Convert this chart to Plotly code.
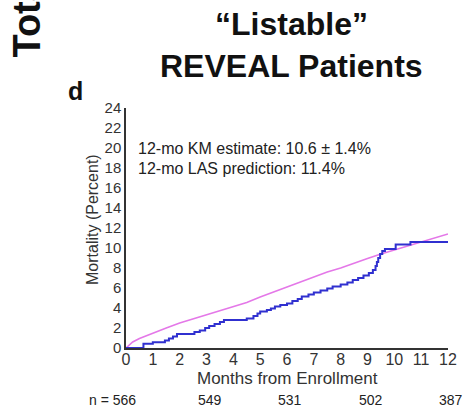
import plotly.graph_objects as go

# Data
km_months = [0, 0.65, 1.0, 1.45, 1.6, 1.75, 1.9, 2.55, 2.75, 2.95, 3.1, 3.3, 3.5, 3.65,
             4.5, 4.75, 4.9, 5.0, 5.25, 5.4, 5.55, 5.75, 6.0, 6.2, 6.4, 6.55, 6.8, 7.0,
             7.25, 7.5, 7.7, 8.0, 8.25, 8.45, 8.65, 8.85, 9.05, 9.2, 9.3, 9.35, 9.4,
             9.47, 9.55, 9.65, 10.05, 10.6, 12]
km_mortality = [0, 0.43, 0.58, 0.75, 0.95, 1.15, 1.4, 1.6, 1.75, 2.0, 2.2, 2.4, 2.6, 2.8,
                2.95, 3.2, 3.45, 3.65, 3.8, 3.95, 4.15, 4.3, 4.45, 4.7, 4.9, 5.15, 5.35, 5.55,
                5.75, 5.95, 6.15, 6.35, 6.55, 6.8, 7.0, 7.25, 7.5, 7.8, 8.2, 8.6, 9.0,
                9.4, 9.7, 9.9, 10.35, 10.6, 10.6]

las_months = [0, 0.25, 0.5, 1, 1.5, 2, 2.5, 3, 3.5, 4, 4.5, 5, 5.5, 6, 6.5, 7, 7.5, 8,
              8.5, 9, 9.5, 10, 10.5, 11, 11.5, 12]
las_mortality = [0, 0.6, 0.95, 1.5, 2.0, 2.5, 2.9, 3.3, 3.7, 4.1, 4.55, 5.1, 5.6, 6.1,
                 6.6, 7.1, 7.6, 8.0, 8.5, 8.95, 9.4, 9.8, 10.15, 10.6, 11.0, 11.4]

x_ticks = list(range(0, 13))
y_ticks = list(range(0, 25, 2))
risk_months = [0, 3, 6, 9, 12]
risk_counts = [566, 549, 531, 502, 387]

FONT = "Liberation Sans, Arial, sans-serif"
W, H = 470, 407
L, R, T, B = 126, 22, 108, 59
PW, PH = W - L - R, H - T - B


def px(xp):
    return (xp - L) / PW


def py(yp):
    return (H - B - yp) / PH


fig = go.Figure()
fig.add_trace(go.Scatter(x=las_months, y=las_mortality, mode="lines",
                         line=dict(color="rgb(228,120,232)", width=1.6),
                         hoverinfo="skip", showlegend=False))
fig.add_trace(go.Scatter(x=km_months, y=km_mortality, mode="lines", line_shape="hv",
                         line=dict(color="rgb(48,48,208)", width=2),
                         hoverinfo="skip", showlegend=False))


def paper_ann(text, xp, yp, size, color="#111", angle=0, xa="center", ya="middle"):
    return dict(text=text, x=px(xp), y=py(yp), xref="paper", yref="paper",
                xanchor=xa, yanchor=ya, textangle=angle, showarrow=False,
                font=dict(family=FONT, size=size, color=color))


ann = [
    paper_ann("<b>“Listable”</b>", 291, 24, 32),
    paper_ann("<b>REVEAL Patients</b>", 291, 66, 32),
    paper_ann("<b>d</b>", 75, 91, 25),
    paper_ann("<b>Total</b>", 26.5, 60, 38, angle=-90, ya="bottom"),
    paper_ann("Mortality (Percent)", 92, 220, 16, color="#333", angle=-90),
    paper_ann("Months from Enrollment", 287, 378, 17, color="#333"),
    dict(text="12-mo KM estimate: 10.6 ± 1.4%", x=0.36, y=20, xref="x", yref="y",
         xanchor="left", yanchor="middle", showarrow=False,
         font=dict(family=FONT, size=16, color="#222")),
    dict(text="12-mo LAS prediction: 11.4%", x=0.36, y=18, xref="x", yref="y",
         xanchor="left", yanchor="middle", showarrow=False,
         font=dict(family=FONT, size=16, color="#222")),
]
for i, (m, n) in enumerate(zip(risk_months, risk_counts)):
    if i == 0:
        ann.append(dict(text=f"n = {n}", x=m, y=py(400), xref="x", yref="paper",
                        xanchor="right", yanchor="middle", xshift=12, showarrow=False,
                        font=dict(family=FONT, size=14, color="#222")))
    else:
        ann.append(dict(text=str(n), x=m, y=py(400), xref="x", yref="paper",
                        xanchor="center", yanchor="middle", xshift=3, showarrow=False,
                        font=dict(family=FONT, size=14, color="#222")))

fig.update_layout(
    width=W, height=H,
    margin=dict(l=L, r=R, t=T, b=B, pad=0),
    paper_bgcolor="white", plot_bgcolor="white",
    annotations=ann,
    xaxis=dict(range=[0, 12], tickvals=x_ticks, showgrid=False, zeroline=False,
               showline=True, linecolor="#333", linewidth=1.5, ticks="",
               ticklabelstandoff=-4,
               tickfont=dict(family=FONT, size=16, color="#333")),
    yaxis=dict(range=[0, 24], tickvals=y_ticks, showgrid=False, zeroline=False,
               showline=True, linecolor="#333", linewidth=1.5, ticks="",
               tickfont=dict(family=FONT, size=15, color="#333")),
)

fig.write_html("out.html")
